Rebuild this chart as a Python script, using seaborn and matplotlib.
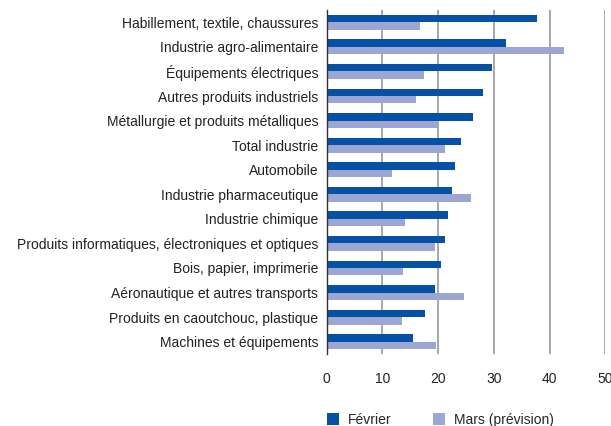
import pandas as pd
import matplotlib.pyplot as plt
import seaborn as sns

categories = [
    "Habillement, textile, chaussures",
    "Industrie agro-alimentaire",
    "Équipements électriques",
    "Autres produits industriels",
    "Métallurgie et produits métalliques",
    "Total industrie",
    "Automobile",
    "Industrie pharmaceutique",
    "Industrie chimique",
    "Produits informatiques, électroniques et optiques",
    "Bois, papier, imprimerie",
    "Aéronautique et autres transports",
    "Produits en caoutchouc, plastique",
    "Machines et équipements",
]
fevrier = [37.8, 32.2, 29.7, 28.1, 26.3, 24.1, 23.1, 22.5, 21.8, 21.3, 20.5, 19.5, 17.7, 15.5]
mars = [16.8, 42.6, 17.5, 16.0, 19.8, 21.3, 11.7, 25.9, 14.1, 19.5, 13.7, 24.7, 13.5, 19.6]
series = ["Février", "Mars (prévision)"]

df = pd.DataFrame({
    "cat": categories * 2,
    "val": fevrier + mars,
    "serie": [series[0]] * len(categories) + [series[1]] * len(categories),
})

sns.set_style("white")
plt.rcParams['font.family'] = ['Liberation Sans', 'DejaVu Sans']

fig = plt.figure(figsize=(6.11, 4.26), dpi=100)
ax = fig.add_axes([326.7 / 611, 1 - 354 / 426, (605.3 - 326.7) / 611, 344 / 426])

sns.barplot(data=df, y="cat", x="val", hue="serie", order=categories,
            hue_order=series, palette=["#0451A5", "#9BA6D3"], orient="h",
            width=0.6, saturation=1, linewidth=0, ax=ax)

ax.set_xlim(0, 50)
ax.set_xticks(range(0, 51, 10))
for v in range(10, 51, 10):
    ax.axvline(v, color="#A8A8A8", lw=1.4, zorder=0)
ax.set_xlabel("")
ax.set_ylabel("")
ax.tick_params(axis="y", labelsize=10, length=0, pad=6)
ax.tick_params(axis="x", labelsize=10, length=0, pad=13)
for s in ["top", "right", "bottom"]:
    ax.spines[s].set_visible(False)
ax.spines["left"].set_color("#333333")
ax.spines["left"].set_linewidth(1.0)
for lab in ax.get_xticklabels() + ax.get_yticklabels():
    lab.set_color("#222222")

ax.legend(loc="upper left", bbox_to_anchor=(-0.045, -0.135), ncol=2, frameon=False,
          fontsize=10, handlelength=0.9, handleheight=0.9, columnspacing=3.0,
          handletextpad=0.6)

fig.savefig("out.png", dpi=100)
